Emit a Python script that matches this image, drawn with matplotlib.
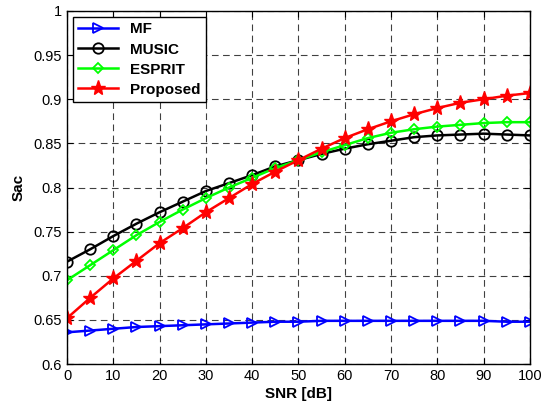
import numpy as np
import matplotlib
matplotlib.use("Agg")
import matplotlib.pyplot as plt

plt.rcParams["font.family"] = ["Liberation Sans", "DejaVu Sans"]

snr = np.arange(0, 101, 5)
mf = [0.636, 0.638, 0.640, 0.642, 0.643, 0.644, 0.645, 0.646, 0.647, 0.648, 0.648,
      0.649, 0.649, 0.649, 0.649, 0.649, 0.649, 0.649, 0.649, 0.648, 0.648]
music = [0.716, 0.730, 0.745, 0.759, 0.772, 0.784, 0.796, 0.805, 0.814, 0.824, 0.831,
         0.838, 0.844, 0.849, 0.853, 0.857, 0.859, 0.860, 0.861, 0.860, 0.859]
esprit = [0.695, 0.712, 0.729, 0.746, 0.761, 0.775, 0.788, 0.800, 0.811, 0.822, 0.831,
          0.840, 0.848, 0.856, 0.862, 0.866, 0.869, 0.871, 0.873, 0.874, 0.874]
proposed = [0.652, 0.675, 0.697, 0.717, 0.737, 0.754, 0.772, 0.788, 0.804, 0.818, 0.831,
            0.844, 0.856, 0.866, 0.875, 0.883, 0.890, 0.896, 0.900, 0.904, 0.907]

fig = plt.figure(figsize=(5.51, 4.05), dpi=100)
ax = fig.add_axes([0.1216, 0.101, 0.840, 0.872])

ax.plot(snr, mf, color="blue", lw=1.8, marker=">", ms=7.5, mfc="none", mew=1.3, label="MF")
ax.plot(snr, music, color="black", lw=1.8, marker="o", ms=7.5, mfc="none", mew=1.3, label="MUSIC")
ax.plot(snr, esprit, color="#00ff00", lw=1.8, marker="D", ms=5.5, mfc="none", mew=1.3, label="ESPRIT")
ax.plot(snr, proposed, color="red", lw=1.8, marker="*", ms=11, mfc="red", mew=1.0, label="Proposed")

ax.set_xlim(0, 100)
ax.set_ylim(0.6, 1.0)
ax.set_xticks(np.arange(0, 101, 10))
ax.set_yticks(np.arange(0.6, 1.001, 0.05))
ax.set_yticklabels(["0.6", "0.65", "0.7", "0.75", "0.8", "0.85", "0.9", "0.95", "1"])
ax.grid(True, color="black", ls=(0, (6, 4)), lw=0.8, alpha=0.75)
ax.tick_params(direction="in", labelsize=10.5, length=4, top=True, right=True)
for s in ax.spines.values():
    s.set_linewidth(1.0)

ax.set_xlabel("SNR [dB]", fontsize=11, fontweight="bold", labelpad=3)
ax.set_ylabel("Sac", fontsize=11, fontweight="bold", labelpad=6)

leg = ax.legend(loc="upper left", fancybox=False, edgecolor="black", framealpha=1,
                prop={"weight": "bold", "size": 11}, borderaxespad=0.4,
                handlelength=2.6, labelspacing=0.4, borderpad=0.35)
leg.get_frame().set_linewidth(1.0)

fig.savefig("out.png", dpi=100)
